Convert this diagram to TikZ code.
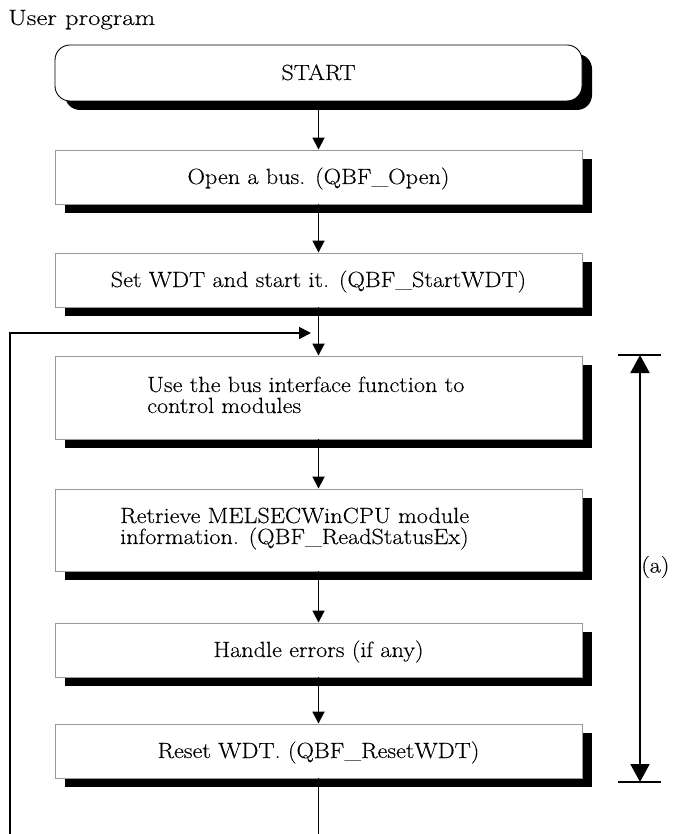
\documentclass[tikz,border=0pt]{standalone}
\usepackage{fontspec}
\setmainfont[FakeStretch=1.1,FakeBold=0.25]{Latin Modern Roman}
\newfontfamily\titlefont[FakeStretch=1.22,FakeBold=0.25]{Latin Modern Roman}
\usetikzlibrary{shadows,arrows.meta}
\begin{document}
\begin{tikzpicture}[x=1pt,y=-1pt,
  box/.style={draw=gray!80, fill=white, minimum width=527pt, line width=0.9pt,
    inner sep=0pt, text height=17pt, text depth=3pt,
    drop shadow={shadow xshift=10pt, shadow yshift=-9pt, fill=black, opacity=1}},
  txt/.style={font=\fontsize{22}{21}\selectfont},
  line/.style={txt, anchor=base west, inner sep=0pt},
  arr/.style={-{Triangle[length=12pt,width=12pt]}, line width=1.8pt},
  dimarr/.style={{Triangle[length=18pt,width=19pt]}-{Triangle[length=18pt,width=19pt]}, line width=1.8pt},
  ln/.style={line width=1.8pt}]
\useasboundingbox (0,0) rectangle (678,834);
\node[font=\titlefont\fontsize{22}{19}\selectfont, anchor=base west, inner sep=0pt] (title) at (8,25) {User program};
\node[box, draw=black, rounded corners=15pt, minimum height=56pt, txt] (start) at (318.5,73) {START};
\node[box, minimum height=54pt, txt] (open) at (318.5,177) {Open a bus. (QBF\_Open)};
\node[box, minimum height=54pt, txt] (wdt) at (318.5,280) {Set WDT and start it. (QBF\_StartWDT)};
\node[box, minimum height=83pt] (use) at (318.5,397.5) {};
\node[line] (usetxtA) at (147,392) {Use the bus interface function to};
\node[line] (usetxtB) at (147,413) {control modules};
\node[box, minimum height=82pt] (read) at (318.5,530) {};
\node[line] (readtxtA) at (120,523) {Retrieve MELSECWinCPU module};
\node[line] (readtxtB) at (120,544) {information. (QBF\_ReadStatusEx)};
\node[box, minimum height=54pt, txt] (err) at (318.5,650) {Handle errors (if any)};
\node[box, minimum height=54pt, txt] (reset) at (318.5,751) {Reset WDT. (QBF\_ResetWDT)};
\draw[arr] (start) -- (open);
\draw[arr] (open) -- (wdt);
\draw[arr] (wdt) -- (use);
\draw[arr] (use) -- (read);
\draw[arr] (read) -- (err);
\draw[arr] (err) -- (reset);
\coordinate (outbot) at (318.5,834);
\draw[ln] (reset) -- (outbot);
\coordinate (loopbot) at (10,834);
\coordinate (loopend) at (311,333);
\draw[arr] (loopbot) |- (loopend);
\coordinate (dimtop) at (640,355);
\coordinate (dimbot) at (640,782);
\coordinate (dimtopL) at (618,355);
\coordinate (dimtopR) at (661,355);
\coordinate (dimbotL) at (618,782);
\coordinate (dimbotR) at (661,782);
\draw[ln] (dimtopL) -- (dimtopR);
\draw[ln] (dimbotL) -- (dimbotR);
\draw[dimarr] (dimtop) -- (dimbot);
\node[txt, anchor=west, inner sep=0pt] (alabel) at (641,567) {(a)};
\end{tikzpicture}
\end{document}
